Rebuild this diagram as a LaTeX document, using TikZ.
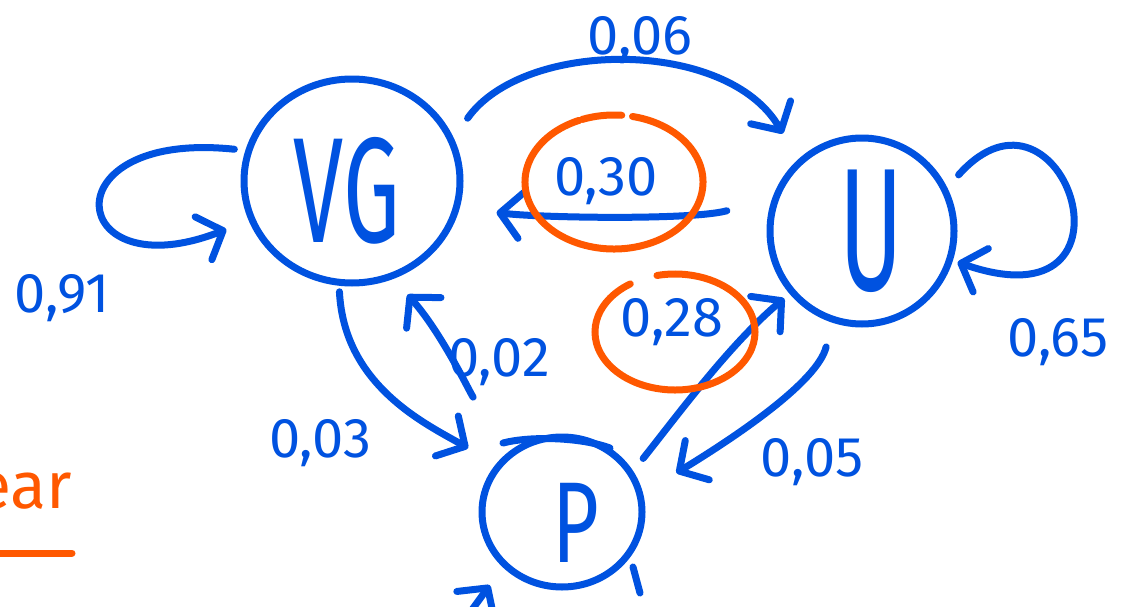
\documentclass[tikz,border=0pt]{standalone}
\usepackage{fontspec}
\usetikzlibrary{arrows.meta,shapes.geometric}
\newfontfamily\hand{Fira Sans}
\definecolor{inkblue}{RGB}{0,82,224}
\definecolor{inkorange}{RGB}{255,88,0}

\begin{document}
\begin{tikzpicture}[x=1pt,y=-1pt,
  ink/.style={draw=inkblue, line width=7pt, line cap=round, line join=round},
  state/.style={ink, ellipse, inner sep=0pt},
  letter/.style={text=inkblue, inner sep=0pt},
  edge/.style={ink, -{Straight Barb[length=21pt,width=46pt,round]}},
  prob/.style={text=inkblue, font=\hand\fontsize{56}{56}\selectfont, inner sep=0pt},
  ring/.style={draw=inkorange, line width=7pt, line cap=round},
]
\useasboundingbox (0,0) rectangle (1124,607);
\clip (0,0) rectangle (1124,607);

% states
\node[state, minimum width=216pt, minimum height=204pt] (VG) at (352,181) {};
\node[state, minimum width=184pt, minimum height=186pt] (U) at (862,231) {};
\node[state, minimum width=160pt, minimum height=150pt] (P) at (562,512) {};

\node[letter, font=\hand\fontsize{150}{150}\selectfont] (VGt) at ([shift={(-5,10)}]VG.center) {\scalebox{0.6}[1]{VG}};
\node[letter, font=\hand\fontsize{175}{175}\selectfont] (Ut) at ([shift={(9,0)}]U.center) {\scalebox{0.55}[1]{U}};
\node[letter, font=\hand\fontsize{115}{115}\selectfont] (Pt) at ([shift={(14,11)}]P.center) {\scalebox{0.7}[1]{P}};

% overlapping pen strokes on P
\draw[ink] (503,443) .. controls (530,436) and (580,437) .. (610,448);
\draw[ink] (633,567) -- (640,593);

% transitions
\draw[edge, shorten <=11pt, shorten >=24pt] (VG.164) .. controls +(-199,-21) and +(-182,71) .. (VG.201);
\draw[edge, shorten <=24pt, shorten >=30pt] (VG.23) .. controls +(70,-99) and +(-70,-122) .. (U.132);
\draw[edge, shorten <=47pt, shorten >=37pt] (U.160) .. controls +(-80,22) and +(80,10) .. (VG.-14);
\draw[edge, shorten <=6pt, shorten >=32pt] (VG.-97) .. controls +(5,100) and +(-70,-40) .. (P.144);
\draw[edge, shorten <=65pt, shorten >=21pt] (P.131) .. controls +(-40,-60) and +(48,54) .. (VG.-67);
\draw[edge, shorten <=16pt, shorten >=7pt] (P.30) .. controls +(40,-50) and +(-60,50) .. (U.221);
\draw[edge, shorten <=25pt, shorten >=39pt] (U.-108) .. controls +(-15,60) and +(90,-55) .. (P.13);
\draw[edge, shorten <=17pt, shorten >=5pt] (U.27) .. controls +(116,-130) and +(200,70) .. (U.-18);
\coordinate (inP) at (466,618);
\draw[edge, shorten >=22pt] (inP) -- (P.223);

% probabilities
\node[prob] (p91) at (62,298) {0,91};
\node[prob] (p06) at (640,40) {0,06};
\node[prob] (p30) at (606,181) {0,30};
\node[prob] (p28) at (672,322) {0,28};
\node[prob] (p02) at (499,362) {0,02};
\node[prob] (p03) at (320,443) {0,03};
\node[prob] (p05) at (812,462) {0,05};
\node[prob] (p65) at (1058,342) {0,65};

% highlight rings
\draw[ring] ([shift={(8,1)}]p30.center) ++(-113:89 and 67)
  arc[start angle=-113, end angle=-438, x radius=89, y radius=67];
\draw[ring] ([shift={(8,1)}]p30.center) ++(-85:89 and 67)
  arc[start angle=-85, end angle=-111, x radius=89, y radius=67];
\draw[ring] ([shift={(3,10)}]p28.center) ++(-124:80 and 58)
  arc[start angle=-124, end angle=-463, x radius=80, y radius=58];

% margin note
\node[text=inkorange, font=\hand\fontsize{66}{66}\selectfont, anchor=base east, inner sep=0pt] (note) at (72,508) {ear};
\draw[ring] (-10,553) -- (note.south east |- 0,553);
\end{tikzpicture}
\end{document}
